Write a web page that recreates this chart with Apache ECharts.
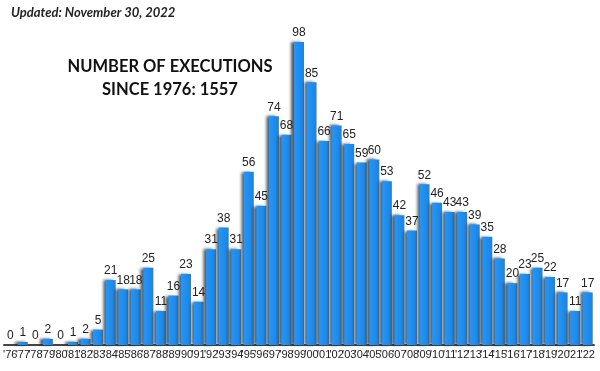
<!DOCTYPE html>
<html><head><meta charset="utf-8">
<script src="https://cdn.jsdelivr.net/npm/echarts@6/dist/echarts.min.js"></script>
<style>html,body{margin:0;padding:0;background:#fff}#c{width:600px;height:371px}</style>
</head><body><div id="c"></div>
<script>
const years = ["'76","'77","'78","'79","'80","'81","'82","'83","'84","'85","'86","'87","'88","'89","'90","'91","'92","'93","'94","'95","'96","'97","'98","'99","'00","'01","'02","'03","'04","'05","'06","'07","'08","'09","'10","'11","'12","'13","'14","'15","'16","'17","'18","'19","'20","'21","'22"];
const executions = [0,1,0,2,0,1,2,5,21,18,18,25,11,16,23,14,31,38,31,56,45,74,68,98,85,66,71,65,59,60,53,42,37,52,46,43,43,39,35,28,20,23,25,22,17,11,17];
const updatedText = 'Updated: November 30, 2022';
const titleLines = ['NUMBER OF EXECUTIONS', 'SINCE 1976: 1557'];

const chart = echarts.init(document.getElementById('c'));
chart.setOption({
  animation: false,
  backgroundColor: '#fff',
  title: [
    { text: updatedText, left: 6, top: 1, textStyle: { fontFamily: 'Lato', fontWeight: 'bold', fontStyle: 'italic', fontSize: 13, color: '#222' } },
    { text: titleLines.join('\n'), left: 165, top: 50, textAlign: 'center',
      textStyle: { fontFamily: 'Lato', fontWeight: 'bold', fontSize: 16.5, color: '#111', lineHeight: 23 } }
  ],
  grid: { left: 4, right: 6, top: 42, bottom: 26 },
  xAxis: {
    type: 'category', data: years,
    axisTick: { show: false },
    axisLine: { lineStyle: { color: '#444', width: 2 } },
    axisLabel: { interval: 0, margin: 4, fontFamily: 'Liberation Sans Narrow, Liberation Sans', fontSize: 11, color: '#222' }
  },
  yAxis: { type: 'value', min: 0, max: 98, show: false, splitLine: { show: false } },
  series: [{
    type: 'bar', data: executions, barWidth: 10,
    itemStyle: {
      color: new echarts.graphic.LinearGradient(0,0,1,0,[{offset:0,color:'#2a95f2'},{offset:1,color:'#1585e8'}]),
      shadowColor: 'rgba(30,30,30,0.75)', shadowOffsetX: -3, shadowOffsetY: 0, shadowBlur: 3
    },
    label: { show: true, position: 'top', distance: 3, fontFamily: 'Liberation Sans Narrow, Liberation Sans', fontSize: 12, color: '#222' }
  }]
});
</script></body></html>
